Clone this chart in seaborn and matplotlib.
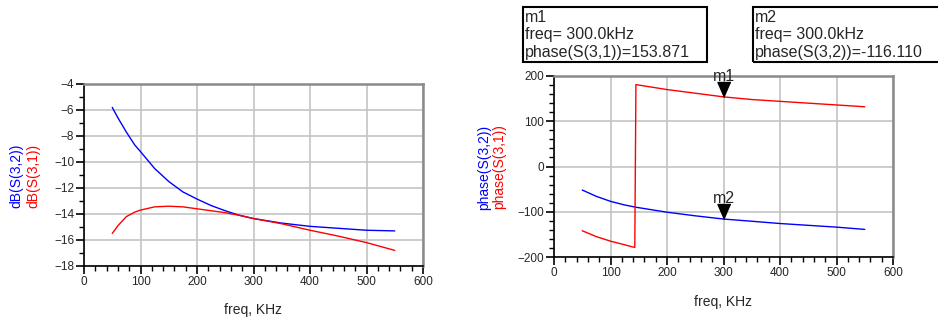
import numpy as np
import pandas as pd
import matplotlib
matplotlib.use("Agg")
import matplotlib.pyplot as plt
from matplotlib.patches import Rectangle
from matplotlib.ticker import MultipleLocator
import seaborn as sns

# ---- data ----
freq_db = [50, 60, 75, 90, 100, 125, 150, 175, 200, 225, 250, 275, 300, 350, 400, 450, 500, 550]
db_s32 = [-5.8, -6.6, -7.7, -8.7, -9.2, -10.5, -11.5, -12.3, -12.85, -13.35, -13.75, -14.1, -14.35, -14.7, -14.95, -15.1, -15.25, -15.3]
db_s31 = [-15.5, -14.9, -14.2, -13.85, -13.7, -13.45, -13.4, -13.45, -13.6, -13.75, -13.9, -14.1, -14.35, -14.75, -15.25, -15.7, -16.2, -16.8]

freq_ph32 = [50, 75, 100, 125, 145, 175, 200, 250, 300, 350, 400, 450, 500, 550]
ph_s32 = [-52, -66, -77, -85, -90, -96, -101, -109, -116.11, -121, -126, -130, -134, -139]
freq_ph31 = [50, 75, 100, 125, 143, 145, 175, 200, 250, 300, 350, 400, 450, 500, 550]
ph_s31 = [-142, -155, -165, -173, -179, 181, 175, 170, 162, 153.871, 148, 144, 140, 136, 132]

marker_freq = [300, 300]
marker_vals = [153.871, -116.110]
marker_names = ["m1", "m2"]

W, H = 938, 320
sns.set_style("white")
plt.rcParams['font.family'] = ['Liberation Sans', 'DejaVu Sans']
fig = plt.figure(figsize=(W / 100, H / 100), dpi=100)

def px_axes(l, t, r, b):
    return fig.add_axes([l / W, (H - b) / H, (r - l) / W, (b - t) / H])

def style_axes(ax, ymin, ymax, ymaj, ymin_step):
    ax.set_xlim(0, 600)
    ax.set_ylim(ymin, ymax)
    ax.xaxis.set_major_locator(MultipleLocator(100))
    ax.xaxis.set_minor_locator(MultipleLocator(20))
    ax.yaxis.set_major_locator(MultipleLocator(ymaj))
    ax.yaxis.set_minor_locator(MultipleLocator(ymin_step))
    ax.grid(True, which='major', color='#c4c4c4', lw=1.2)
    ax.tick_params(which='major', direction='out', length=6, width=1.2, color='black',
                   labelsize=8.5, pad=1, left=True, bottom=True)
    ax.tick_params(which='minor', direction='out', length=3.5, width=1.0, color='black',
                   left=True, bottom=True)
    for s in ['top', 'right']:
        ax.spines[s].set_color('#8a8a8a')
        ax.spines[s].set_linewidth(1.8)
    for s in ['left', 'bottom']:
        ax.spines[s].set_color('black')
        ax.spines[s].set_linewidth(1.2)
    ax.set_xlabel("")
    ax.set_ylabel("")

# ---- left plot ----
ax1 = px_axes(84, 84, 423, 266)
sns.lineplot(x=freq_db, y=db_s32, ax=ax1, color='#0000ff', lw=1.0)
sns.lineplot(x=freq_db, y=db_s31, ax=ax1, color='#ff0000', lw=1.0)
style_axes(ax1, -18, -4, 2, 1)
fig.text(253, H - 310, "freq, KHz", transform=None) if False else None
fig.text(253 / W, 1 - 310 / H, "freq, KHz", ha='center', va='center', fontsize=10)
fig.text(16 / W, 1 - 176 / H, "dB(S(3,2))", rotation=90, ha='center', va='center', fontsize=10, color='#0000ff')
fig.text(33 / W, 1 - 176 / H, "dB(S(3,1))", rotation=90, ha='center', va='center', fontsize=10, color='#ff0000')

# ---- right plot ----
ax2 = px_axes(554, 76, 893, 257)
sns.lineplot(x=freq_ph32, y=ph_s32, ax=ax2, color='#0000ff', lw=1.0)
sns.lineplot(x=freq_ph31, y=ph_s31, ax=ax2, color='#ff0000', lw=1.0)
style_axes(ax2, -200, 200, 100, 20)
fig.text(723 / W, 1 - 302 / H, "freq, KHz", ha='center', va='center', fontsize=10)
fig.text(484 / W, 1 - 167 / H, "phase(S(3,2))", rotation=90, ha='center', va='center', fontsize=10, color='#0000ff')
fig.text(499 / W, 1 - 167 / H, "phase(S(3,1))", rotation=90, ha='center', va='center', fontsize=10, color='#ff0000')

# markers
tri = [(0, 0), (-6.5, 15), (6.5, 15)]
for fx, v, name in zip(marker_freq, marker_vals, marker_names):
    ax2.plot([fx], [v], marker=tri, markersize=21.6, color='black', clip_on=False, zorder=5)
    ax2.annotate(name, (fx, v), xytext=(0, 11.5), textcoords='offset points',
                 ha='center', va='baseline', fontsize=11.5, annotation_clip=False, zorder=6)

# marker readout boxes
boxes = [
    (523, 7, 707, 62, ["m1", "freq= 300.0kHz", "phase(S(3,1))=153.871"]),
    (753, 7, 960, 62, ["m2", "freq= 300.0kHz", "phase(S(3,2))=-116.110"]),
]
for l, t, r, b, lines in boxes:
    fig.add_artist(Rectangle((l / W, 1 - b / H), (r - l) / W, (b - t) / H,
                             transform=fig.transFigure, fill=False, ec='black', lw=1.5))
    for i, line in enumerate(lines):
        fig.text((l + 2) / W, 1 - (t + 10 + 17.5 * i) / H, line, ha='left', va='center', fontsize=11.5)

fig.savefig("out.png", dpi=100)
